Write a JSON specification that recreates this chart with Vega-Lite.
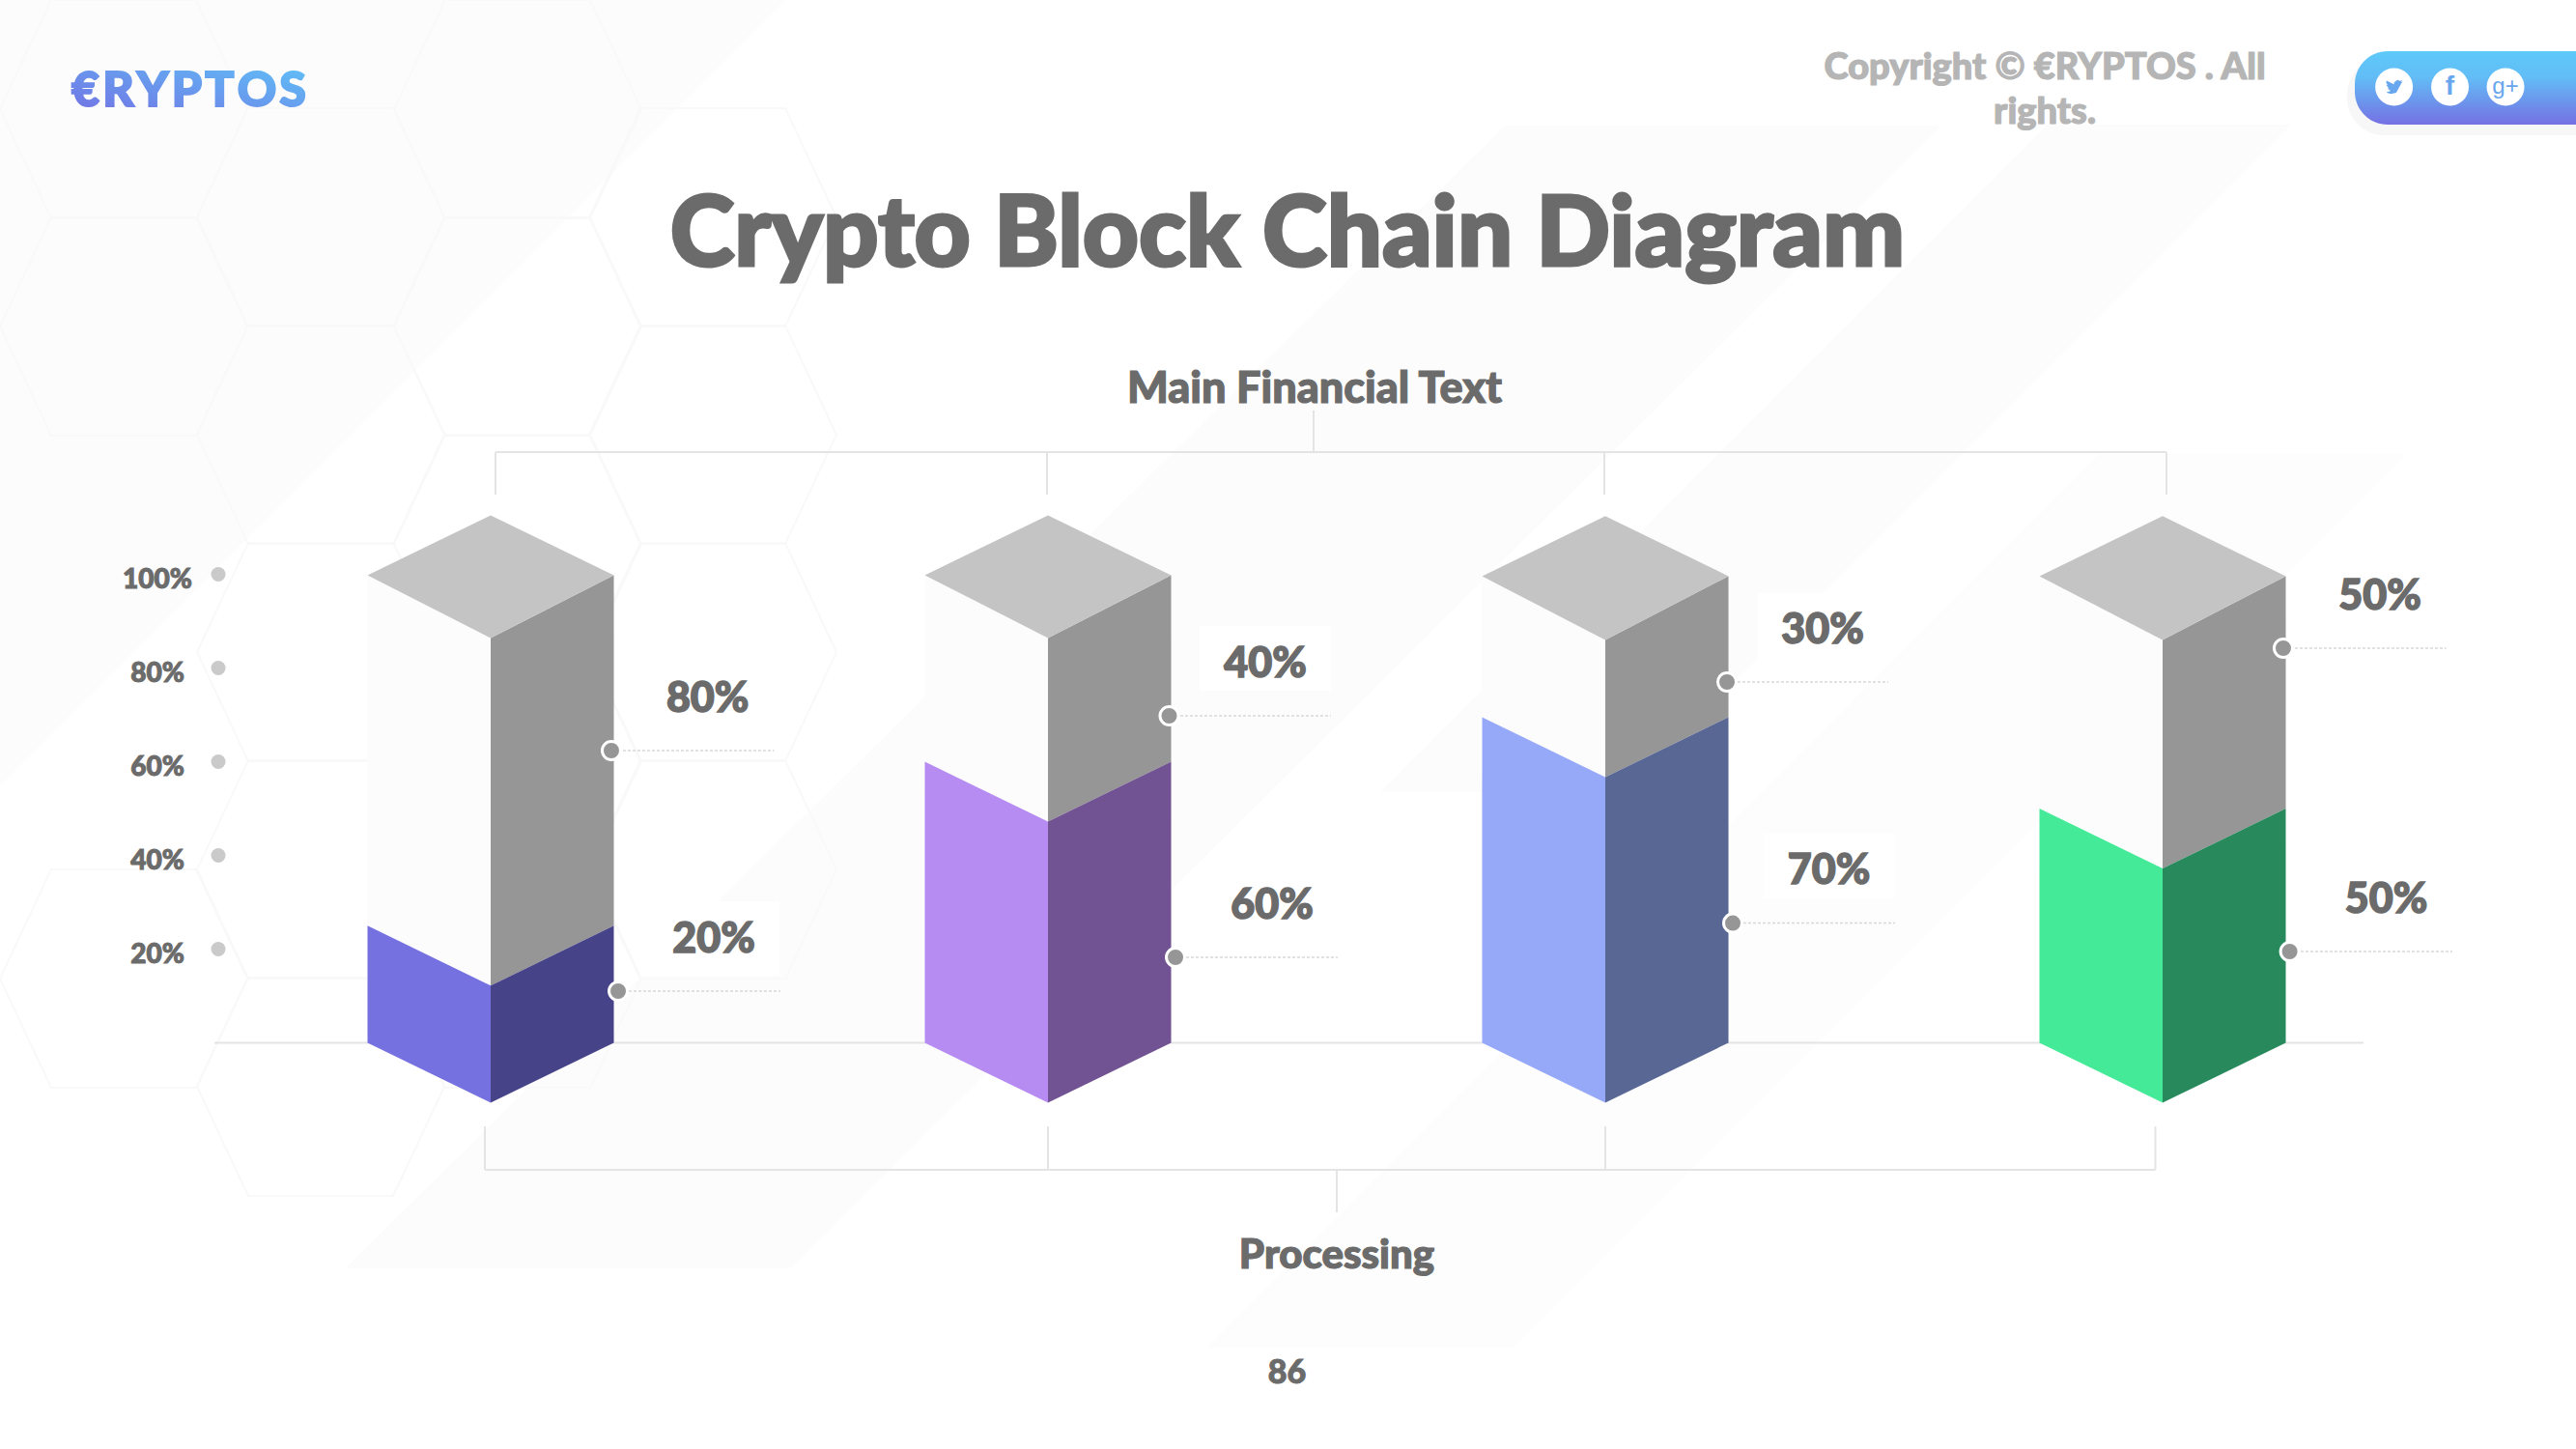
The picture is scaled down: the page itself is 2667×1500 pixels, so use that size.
{
"$schema":"https://vega.github.io/schema/vega-lite/v6.json",
"width":2667,"height":1500,"padding":0,"autosize":{"type":"none"},
"background":"#ffffff",
"config":{"view":{"stroke":null},"text":{"font":"Lato","fontWeight":900,"fill":"#6b6b6b"}},
"datasets":{
"bands":[
{"band":"a","slot":0.1196,"slotEnd":1.5286,"level":222.58},{"band":"a","slot":0.1196,"slotEnd":0.1196,"level":54.95},
{"band":"b","slot":2.8198,"slotEnd":3.6031,"level":195.77},{"band":"b","slot":0.7383,"slotEnd":1.5373,"level":-48.14},
{"band":"c","slot":3.7938,"slotEnd":4.2305,"level":195.98},{"band":"c","slot":2.5962,"slotEnd":3.0329,"level":53.51}
],
"hexes":[
{"slot":0.3414,"level":199.29},{"slot":0.3414,"level":152.89},{"slot":0.3414,"level":13.71},
{"slot":0.695,"level":176.19},{"slot":0.695,"level":129.79},{"slot":0.695,"level":83.40},{"slot":0.695,"level":36.99},{"slot":0.695,"level":-9.38},
{"slot":1.0485,"level":199.29},{"slot":1.0485,"level":152.89},{"slot":1.0485,"level":106.49},{"slot":1.0485,"level":60.10},{"slot":1.0485,"level":13.71},
{"slot":1.3986,"level":176.19},{"slot":1.3986,"level":129.79},{"slot":1.3986,"level":83.40},{"slot":1.3986,"level":36.99}
],
"guides":[
{"slot":0.5043,"slotEnd":4.3605,"level":0,"levelEnd":0},
{"slot":1.0087,"slotEnd":4.0069,"level":126.08,"levelEnd":126.08},
{"slot":1.0087,"slotEnd":1.0087,"level":126.08,"levelEnd":117.01},
{"slot":1.9983,"slotEnd":1.9983,"level":126.08,"levelEnd":117.01},
{"slot":2.9983,"slotEnd":2.9983,"level":126.08,"levelEnd":117.01},
{"slot":4.0069,"slotEnd":4.0069,"level":126.08,"levelEnd":117.01},
{"slot":2.4766,"slotEnd":2.4766,"level":126.08,"levelEnd":134.95},
{"slot":0.9896,"slotEnd":3.987,"level":-27.11,"levelEnd":-27.11},
{"slot":0.9896,"slotEnd":0.9896,"level":-27.11,"levelEnd":-17.84},
{"slot":2,"slotEnd":2,"level":-27.11,"levelEnd":-17.84},
{"slot":3,"slotEnd":3,"level":-27.11,"levelEnd":-17.84},
{"slot":3.987,"slotEnd":3.987,"level":-27.11,"levelEnd":-17.84},
{"slot":2.5182,"slotEnd":2.5182,"level":-27.11,"levelEnd":-36.19}
],
"faces":[
{"face":"1 shell front","tone":"shell front","slot":0.779,"level":25,"levelEnd":99.8},{"face":"1 shell front","tone":"shell front","slot":1,"level":12.2,"levelEnd":86.4},
{"face":"1 shell side","tone":"shell side","slot":1,"level":12.2,"levelEnd":86.4},{"face":"1 shell side","tone":"shell side","slot":1.221,"level":25,"levelEnd":99.8},
{"face":"1 fill front","tone":"1 front","slot":0.779,"level":0,"levelEnd":25},{"face":"1 fill front","tone":"1 front","slot":1,"level":-12.8,"levelEnd":12.2},
{"face":"1 fill side","tone":"1 side","slot":1,"level":-12.8,"levelEnd":12.2},{"face":"1 fill side","tone":"1 side","slot":1.221,"level":0,"levelEnd":25},
{"face":"1 cap","tone":"cap","slot":0.779,"level":99.8,"levelEnd":99.8},{"face":"1 cap","tone":"cap","slot":1,"level":112.6,"levelEnd":86.4},{"face":"1 cap","tone":"cap","slot":1.221,"level":99.8,"levelEnd":99.8},

{"face":"2 shell front","tone":"shell front","slot":1.779,"level":60,"levelEnd":99.8},{"face":"2 shell front","tone":"shell front","slot":2,"level":47.2,"levelEnd":86.4},
{"face":"2 shell side","tone":"shell side","slot":2,"level":47.2,"levelEnd":86.4},{"face":"2 shell side","tone":"shell side","slot":2.221,"level":60,"levelEnd":99.8},
{"face":"2 fill front","tone":"2 front","slot":1.779,"level":0,"levelEnd":60},{"face":"2 fill front","tone":"2 front","slot":2,"level":-12.8,"levelEnd":47.2},
{"face":"2 fill side","tone":"2 side","slot":2,"level":-12.8,"levelEnd":47.2},{"face":"2 fill side","tone":"2 side","slot":2.221,"level":0,"levelEnd":60},
{"face":"2 cap","tone":"cap","slot":1.779,"level":99.8,"levelEnd":99.8},{"face":"2 cap","tone":"cap","slot":2,"level":112.6,"levelEnd":86.4},{"face":"2 cap","tone":"cap","slot":2.221,"level":99.8,"levelEnd":99.8},

{"face":"3 shell front","tone":"shell front","slot":2.779,"level":69.5,"levelEnd":99.6},{"face":"3 shell front","tone":"shell front","slot":3,"level":56.7,"levelEnd":86},
{"face":"3 shell side","tone":"shell side","slot":3,"level":56.7,"levelEnd":86},{"face":"3 shell side","tone":"shell side","slot":3.221,"level":69.5,"levelEnd":99.6},
{"face":"3 fill front","tone":"3 front","slot":2.779,"level":0,"levelEnd":69.5},{"face":"3 fill front","tone":"3 front","slot":3,"level":-12.8,"levelEnd":56.7},
{"face":"3 fill side","tone":"3 side","slot":3,"level":-12.8,"levelEnd":56.7},{"face":"3 fill side","tone":"3 side","slot":3.221,"level":0,"levelEnd":69.5},
{"face":"3 cap","tone":"cap","slot":2.779,"level":99.6,"levelEnd":99.6},{"face":"3 cap","tone":"cap","slot":3,"level":112.4,"levelEnd":86},{"face":"3 cap","tone":"cap","slot":3.221,"level":99.6,"levelEnd":99.6},

{"face":"4 shell front","tone":"shell front","slot":3.779,"level":50,"levelEnd":99.6},{"face":"4 shell front","tone":"shell front","slot":4,"level":37.2,"levelEnd":86},
{"face":"4 shell side","tone":"shell side","slot":4,"level":37.2,"levelEnd":86},{"face":"4 shell side","tone":"shell side","slot":4.221,"level":50,"levelEnd":99.6},
{"face":"4 fill front","tone":"4 front","slot":3.779,"level":0,"levelEnd":50},{"face":"4 fill front","tone":"4 front","slot":4,"level":-12.8,"levelEnd":37.2},
{"face":"4 fill side","tone":"4 side","slot":4,"level":-12.8,"levelEnd":37.2},{"face":"4 fill side","tone":"4 side","slot":4.221,"level":0,"levelEnd":50},
{"face":"4 cap","tone":"cap","slot":3.779,"level":99.6,"levelEnd":99.6},{"face":"4 cap","tone":"cap","slot":4,"level":112.4,"levelEnd":86},{"face":"4 cap","tone":"cap","slot":4.221,"level":99.6,"levelEnd":99.6}
],
"ticks":[
{"label":"100%","slot":0.5113,"labelSlot":0.4021,"level":100},
{"label":"80%","slot":0.5113,"labelSlot":0.4021,"level":80},
{"label":"60%","slot":0.5113,"labelSlot":0.4021,"level":60},
{"label":"40%","slot":0.5113,"labelSlot":0.4021,"level":40},
{"label":"20%","slot":0.5113,"labelSlot":0.4021,"level":20}
],
"callouts":[
{"label":"80%","slot":1.2166,"level":62.37,"lineStart":1.2374,"lineEnd":1.5087,"textSlot":1.3893,"textLevel":73.71},
{"label":"20%","slot":1.2288,"level":11.03,"lineStart":1.2478,"lineEnd":1.5199,"textSlot":1.4003,"textLevel":22.37},
{"label":"40%","slot":2.2175,"level":69.79,"lineStart":2.2374,"lineEnd":2.5078,"textSlot":2.39,"textLevel":81.13},
{"label":"60%","slot":2.2288,"level":18.25,"lineStart":2.2478,"lineEnd":2.5199,"textSlot":2.4021,"textLevel":29.59},
{"label":"30%","slot":3.2184,"level":77.01,"lineStart":3.2374,"lineEnd":3.5078,"textSlot":3.39,"textLevel":88.35},
{"label":"70%","slot":3.2288,"level":25.55,"lineStart":3.2478,"lineEnd":3.5199,"textSlot":3.4012,"textLevel":37.01},
{"label":"50%","slot":4.2166,"level":84.23,"lineStart":4.2374,"lineEnd":4.5088,"textSlot":4.39,"textLevel":95.57},
{"label":"50%","slot":4.2281,"level":19.48,"lineStart":4.2478,"lineEnd":4.52,"textSlot":4.4012,"textLevel":30.82}
],
"icons":[{"icon":"twitter","slot":4.4153,"level":204.02},{"icon":"facebook","slot":4.5156,"level":204.02},{"icon":"google","slot":4.6153,"level":204.02}]
},
"encoding":{
"x":{"field":"slot","type":"quantitative","axis":null,"scale":{"domain":[0.11958,4.74177],"nice":false,"zero":false}},
"y":{"field":"level","type":"quantitative","axis":null,"scale":{"domain":[-86.7,222.58],"nice":false,"zero":false}}
},
"layer":[
{"data":{"name":"bands"},"mark":{"type":"area","orient":"horizontal","color":"#fcfcfc"},"encoding":{"x2":{"field":"slotEnd"},"detail":{"field":"band"}}},
{"data":{"values":[{"slot":3.8873,"slotEnd":4.4385,"level":125.7},{"slot":2.2842,"slotEnd":2.8354,"level":-65.05}]},"mark":{"type":"area","orient":"horizontal","color":"#fdfdfd"},"encoding":{"x2":{"field":"slotEnd"}}},
{"data":{"name":"hexes"},"mark":{"type":"point","shape":"M-1,0L-0.586,-0.883L0.586,-0.883L1,0L0.586,0.883L-0.586,0.883Z","size":65536,"filled":false,"stroke":"#f9f9f9","strokeWidth":2,"opacity":1}},
{"data":{"values":[{"slot":1.2686,"slotEnd":1.5182,"level":30.2,"levelEnd":14.33},{"slot":2.2721,"slotEnd":2.5078,"level":88.97,"levelEnd":75.15},{"slot":3.2738,"slotEnd":3.5078,"level":95.98,"levelEnd":81.96},{"slot":3.2842,"slotEnd":3.5199,"level":44.64,"levelEnd":30.82}]},"mark":{"type":"rect","color":"#ffffff"},"encoding":{"x2":{"field":"slotEnd"},"y2":{"field":"levelEnd"}}},
{"data":{"name":"guides"},"mark":{"type":"rule","color":"#e4e4e4","strokeWidth":2},"encoding":{"x2":{"field":"slotEnd"},"y2":{"field":"levelEnd"}}},
{"data":{"name":"faces"},"mark":{"type":"area","orient":"vertical"},"encoding":{"y2":{"field":"levelEnd"},"detail":{"field":"face"},
"color":{"field":"tone","type":"nominal","legend":null,"scale":{"domain":["shell front","shell side","cap","1 front","1 side","2 front","2 side","3 front","3 side","4 front","4 side"],"range":["#fcfcfc","#969696","#c4c4c4","#7571e0","#474389","#b68cf2","#715292","#96a9f9","#596795","#45ea98","#288a5c"]}}}},
{"data":{"name":"ticks"},"mark":{"type":"point","filled":true,"shape":"circle","size":225,"color":"#cacaca","opacity":1}},
{"data":{"name":"ticks"},"mark":{"type":"text","fontSize":28,"dy":6,"stroke":"#6b6b6b","strokeWidth":1},"encoding":{"x":{"field":"labelSlot","type":"quantitative"},"text":{"field":"label"}}},
{"data":{"name":"callouts"},"mark":{"type":"rule","color":"#d8d8d8","strokeWidth":1.5,"strokeDash":[3,2]},"encoding":{"x":{"field":"lineStart","type":"quantitative"},"x2":{"field":"lineEnd"}}},
{"data":{"name":"callouts"},"mark":{"type":"point","shape":"circle","filled":true,"size":361,"fill":"#969696","stroke":"#ffffff","strokeWidth":3,"opacity":1}},
{"data":{"name":"callouts"},"mark":{"type":"text","fontSize":43,"baseline":"middle","dy":2,"stroke":"#6b6b6b","strokeWidth":1.5},"encoding":{"x":{"field":"textSlot","type":"quantitative"},"y":{"field":"textLevel","type":"quantitative"},"text":{"field":"label"}}},
{"data":{"values":[{"label":"Crypto Block Chain Diagram","slot":2.4298,"level":165.88}]},"mark":{"type":"text","fontSize":101,"baseline":"alphabetic","stroke":"#6b6b6b","strokeWidth":3},"encoding":{"text":{"field":"label"}}},
{"data":{"values":[{"label":"Main Financial Text","slot":2.4783,"level":136.7}]},"mark":{"type":"text","fontSize":45,"baseline":"alphabetic","stroke":"#6b6b6b","strokeWidth":1.2},"encoding":{"text":{"field":"label"}}},
{"data":{"values":[{"label":"Processing","slot":2.5182,"level":-48.14}]},"mark":{"type":"text","fontSize":42,"baseline":"alphabetic","stroke":"#6b6b6b","strokeWidth":1.2},"encoding":{"text":{"field":"label"}}},
{"data":{"values":[{"label":"86","slot":2.4289,"level":-72.68}]},"mark":{"type":"text","fontSize":34,"baseline":"alphabetic","stroke":"#6b6b6b","strokeWidth":1},"encoding":{"text":{"field":"label"}}},
{"data":{"values":[{"label":"Copyright © €RYPTOS . All","slot":3.7886,"level":205.67},{"label":"rights.","slot":3.7886,"level":196.19}]},"mark":{"type":"text","fontSize":38,"baseline":"alphabetic","fill":"#b5b5b5","stroke":"#b5b5b5","strokeWidth":1.2},"encoding":{"text":{"field":"label"}}},
{"data":{"values":[{"label":"€\u200aR\u200aY\u200aP\u200aT\u200aO\u200aS","slot":0.4584,"level":199.9}]},"mark":{"type":"text","fontSize":50,"baseline":"alphabetic","strokeWidth":2,"fill":{"gradient":"linear","x1":0,"y1":1,"x2":1,"y2":0,"stops":[{"offset":0,"color":"#7370e3"},{"offset":1,"color":"#5ec4f8"}]},"stroke":{"gradient":"linear","x1":0,"y1":1,"x2":1,"y2":0,"stops":[{"offset":0,"color":"#7370e3"},{"offset":1,"color":"#5ec4f8"}]}},"encoding":{"text":{"field":"label"}}},
{"data":{"values":[{"slot":4.331,"slotEnd":4.7418,"level":210.2,"levelEnd":193.7}]},"mark":{"type":"rect","color":"#000000","opacity":0.03,"cornerRadiusTopLeft":38,"cornerRadiusBottomLeft":38},"encoding":{"x2":{"field":"slotEnd"},"y2":{"field":"levelEnd"}}},
{"data":{"values":[{"slot":4.3449,"slotEnd":4.7418,"level":211.65,"levelEnd":195.98}]},"mark":{"type":"rect","cornerRadiusTopLeft":34,"cornerRadiusBottomLeft":34,"fill":{"gradient":"linear","x1":0,"y1":0,"x2":0,"y2":1,"stops":[{"offset":0,"color":"#5ec9f9"},{"offset":0.35,"color":"#62bdf6"},{"offset":1,"color":"#7570e3"}]}},"encoding":{"x2":{"field":"slotEnd"},"y2":{"field":"levelEnd"}}},
{"data":{"name":"icons"},"mark":{"type":"point","shape":"circle","filled":true,"size":1521,"color":"#ffffff","opacity":1}},
{"data":{"name":"icons"},"transform":[{"filter":"datum.icon === 'twitter'"}],"mark":{"type":"point","filled":true,"size":324,"color":"#68a6ee","opacity":1,"shape":"M.996,-.619L.761,-.554L.941,-.782L.68,-.683L.383,-.817L.017,-.542L-.018,-.309L-.863,-.737L-.919,-.53L-.737,-.189L-.923,-.24L-.593,.163L-.778,.169L-.394,.454L-.903,.629L-1,.623L-.37,.808L.25,.667L.796,-.333L.795,-.375Z"}},
{"data":{"values":[{"label":"f","slot":4.5156,"level":204.02}]},"mark":{"type":"text","font":"Liberation Sans","fontWeight":"bold","fontSize":28,"baseline":"middle","fill":"#68a6ee"},"encoding":{"text":{"field":"label"}}},
{"data":{"values":[{"label":"g+","slot":4.6153,"level":204.02}]},"mark":{"type":"text","font":"Liberation Sans","fontWeight":"normal","fontSize":24,"baseline":"middle","fill":"#68a6ee"},"encoding":{"text":{"field":"label"}}}
]
}
